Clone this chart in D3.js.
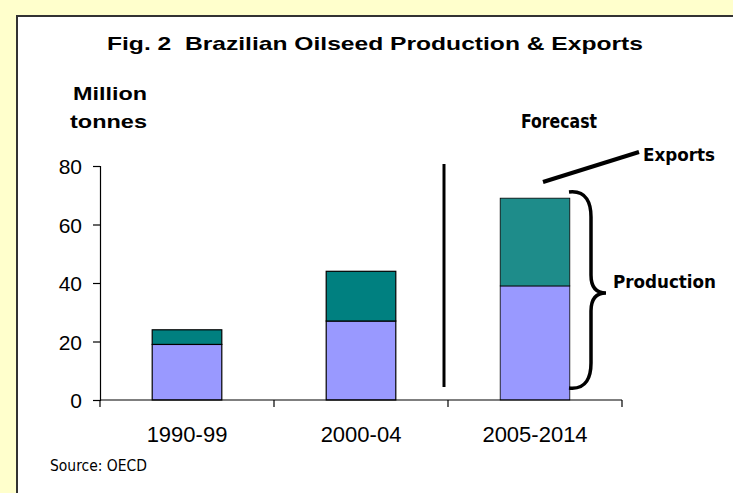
<!DOCTYPE html>
<html><head><meta charset="utf-8">
<script src="https://cdn.jsdelivr.net/npm/d3@7"></script>
<style>body{margin:0;background:#FFFFCC;}svg{display:block;} text{white-space:pre;}</style>
</head><body>
<svg id="c" width="733" height="493"></svg>
<script>
const categories = ["1990-99", "2000-04", "2005-2014"];
const production = [19, 27, 39];
const exportsVals = [5, 17, 30];
const yTicks = [0, 20, 40, 60, 80];

(function(){
const svg = d3.select("#c");
svg.append("rect").attr("x",0).attr("y",0).attr("width",733).attr("height",493).attr("fill","#FFFFCC");
svg.append("rect").attr("x",17).attr("y",16).attr("width",740).attr("height",500)
  .attr("fill","#fff").attr("stroke","#333").attr("stroke-width",2);

const x = d3.scaleBand().domain(categories).range([100, 622]).paddingInner(0.6).paddingOuter(0.3);
const y = d3.scaleLinear().domain([0, 80]).range([400, 166]);

// bars
const g = svg.append("g");
categories.forEach((c, i) => {
  const p = production[i], e = exportsVals[i];
  g.append("rect").attr("x", x(c)).attr("y", y(p)).attr("width", x.bandwidth()).attr("height", y(0) - y(p))
    .attr("fill", "#9999FF").attr("stroke", "#000").attr("stroke-width", i === 2 ? 0.8 : 1.2);
  g.append("rect").attr("x", x(c)).attr("y", y(p + e)).attr("width", x.bandwidth()).attr("height", y(p) - y(p + e))
    .attr("fill", i === 2 ? "#1E8C8A" : "#008080").attr("stroke", "#000").attr("stroke-width", i === 2 ? 0.8 : 1.2);
});

// y axis
const ya = svg.append("g").attr("transform","translate(100,0)")
  .call(d3.axisLeft(y).tickValues(yTicks).tickSize(7).tickPadding(11));
ya.select(".domain").attr("stroke","#000").attr("stroke-width",1.2);
ya.selectAll(".tick line").attr("stroke","#000").attr("stroke-width",1.2);
ya.selectAll("text").attr("font-family","Liberation Sans, Arial").attr("font-size",21).attr("fill","#000").attr("dy","0.36em");

// x axis
const xa = svg.append("g").attr("transform","translate(0,400)");
xa.append("line").attr("x1",100).attr("x2",622).attr("stroke","#000").attr("stroke-width",1.2);
const edges = [100].concat(categories.map(c => x(c) + x.bandwidth() + x.step()*x.paddingInner()/2));
edges[edges.length-1] = 622;
edges.forEach(ex => xa.append("line").attr("x1",ex).attr("x2",ex).attr("y1",0).attr("y2",7).attr("stroke","#000").attr("stroke-width",1.2));
categories.forEach(c => xa.append("text").attr("x", x(c) + x.bandwidth()/2).attr("y", 42)
  .attr("text-anchor","middle").attr("font-family","Liberation Sans, Arial").attr("font-size",22).text(c));

// titles
svg.append("text").attr("x",107).attr("y",50)
  .attr("font-family","Liberation Sans, Arial").attr("font-weight","bold").attr("font-size",19)
  .attr("textLength",536).attr("lengthAdjust","spacingAndGlyphs")
  .text("Fig. 2  Brazilian Oilseed Production & Exports");
svg.append("text").attr("x",73).attr("y",100)
  .attr("font-family","Liberation Sans, Arial").attr("font-weight","bold").attr("font-size",19)
  .attr("textLength",74).attr("lengthAdjust","spacingAndGlyphs").text("Million");
svg.append("text").attr("x",70).attr("y",128)
  .attr("font-family","Liberation Sans, Arial").attr("font-weight","bold").attr("font-size",19)
  .attr("textLength",77).attr("lengthAdjust","spacingAndGlyphs").text("tonnes");

// forecast annotations
svg.append("text").attr("x",521).attr("y",128)
  .attr("font-family","DejaVu Sans Condensed, DejaVu Sans").attr("font-weight","bold").attr("font-size",19)
  .attr("textLength",76).attr("lengthAdjust","spacingAndGlyphs").text("Forecast");
svg.append("line").attr("x1",444).attr("x2",444).attr("y1",164).attr("y2",387).attr("stroke","#000").attr("stroke-width",3);
svg.append("line").attr("x1",543).attr("y1",182).attr("x2",639).attr("y2",152).attr("stroke","#000").attr("stroke-width",4);
svg.append("text").attr("x",643).attr("y",161)
  .attr("font-family","DejaVu Sans Condensed, DejaVu Sans").attr("font-weight","bold").attr("font-size",17)
  .attr("textLength",72).attr("lengthAdjust","spacingAndGlyphs").text("Exports");
svg.append("text").attr("x",613).attr("y",288)
  .attr("font-family","DejaVu Sans Condensed, DejaVu Sans").attr("font-weight","bold").attr("font-size",17)
  .attr("textLength",103).attr("lengthAdjust","spacingAndGlyphs").text("Production");
// brace
const bx = 569, bTop = 192, bBot = 388, mid = 293, tip = 606;
const brace = `M${bx},${bTop} C${bx+18},${bTop-2} ${bx+22},${bTop+12} ${bx+22},${bTop+25}
 L${bx+22},${mid-18} C${bx+22},${mid-5} ${bx+28},${mid} ${tip},${mid}
 C${bx+28},${mid} ${bx+22},${mid+5} ${bx+22},${mid+18}
 L${bx+22},${bBot-25} C${bx+22},${bBot-12} ${bx+18},${bBot+2} ${bx},${bBot}`;
svg.append("path").attr("d",brace).attr("fill","none").attr("stroke","#000").attr("stroke-width",3.5);

svg.append("text").attr("x",50).attr("y",471)
  .attr("font-family","DejaVu Sans Condensed, DejaVu Sans").attr("font-size",16)
  .attr("textLength",97).attr("lengthAdjust","spacingAndGlyphs").text("Source: OECD");
})();
</script>
</body></html>
